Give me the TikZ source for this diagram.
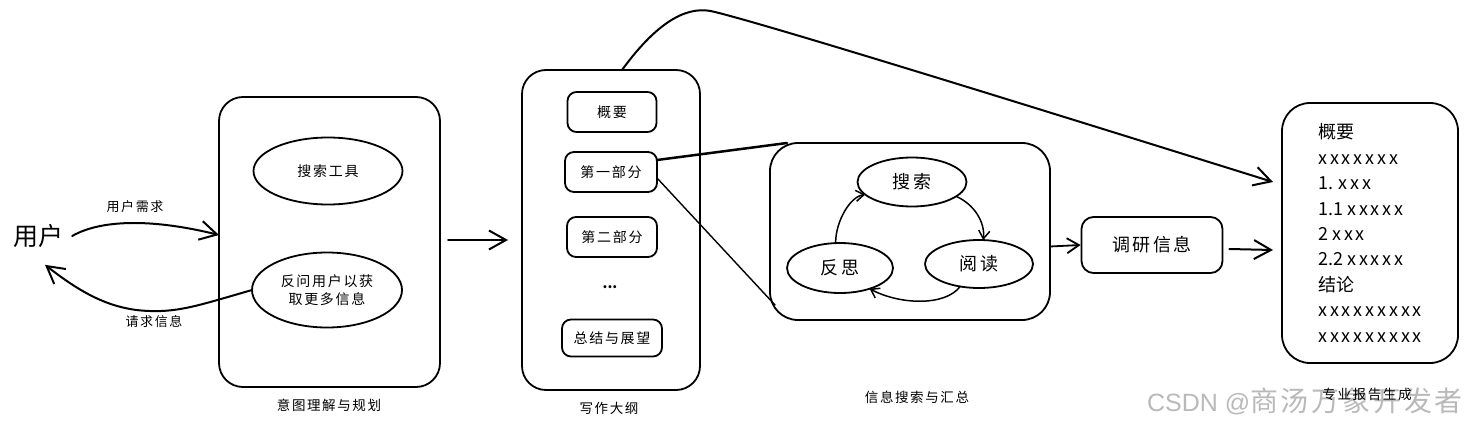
\documentclass[tikz,border=0pt]{standalone}
\usepackage{fontspec}
\setmainfont{Noto Sans CJK SC}
\newfontfamily\cjktrack[LetterSpace=12]{Noto Sans CJK SC}
\newfontfamily\xtrack[LetterSpace=16]{Noto Sans CJK SC}
\newfontfamily\wmcjk[LetterSpace=10]{Noto Sans CJK SC}
\newfontfamily\wmlatin{Liberation Sans}
\usetikzlibrary{arrows.meta,shapes.geometric,calc}

\begin{document}
\begin{tikzpicture}[x=1pt,y=-1pt,
  ink/.style={draw=black, line width=1.8pt, line cap=round, line join=round},
  panel/.style={ink, rounded corners=24pt, inner sep=0pt, outer sep=0pt},
  card/.style={ink, rounded corners=9pt, inner sep=0pt, outer sep=0pt,
    font=\cjktrack\fontsize{14}{16}\selectfont},
  bubble/.style={ink, ellipse, inner sep=0pt, outer sep=0pt},
  caption/.style={inner sep=0pt, font=\cjktrack\fontsize{13.5}{16}\selectfont},
  flow/.style={ink, line width=2pt, -{Straight Barb[length=17pt,width=19pt]}},
  short/.style={ink, -{Straight Barb[length=12pt,width=15pt]}},
  cycle/.style={ink, line width=1.5pt, -{Straight Barb[length=8pt,width=11pt]}}
]
\useasboundingbox (0,0) rectangle (1466,428);

% user and the exchange with the planner
\node[inner sep=0pt, font=\fontsize{25}{28}\selectfont] (user) at (38,236) {用户};

\node[panel, minimum width=221pt, minimum height=290pt] (intent) at (329.5,242) {};
\node[bubble, minimum width=149pt, minimum height=67pt,
  font=\cjktrack\fontsize{14}{16}\selectfont] (tool) at (328,171) {搜索工具};
\node[bubble, minimum width=150pt, minimum height=75pt, align=center,
  font=\cjktrack\fontsize{14}{18.5}\selectfont] (ask) at (327,290) {反问用户以获\\取更多信息};
\node[caption] (intentcap) at (329,405) {意图理解与规划};

\draw[flow] ([xshift=9pt]user.east) .. controls (100,220) and (150,218) .. ([yshift=7pt]intent.west);
\node[inner sep=0pt, font=\cjktrack\fontsize{13}{15}\selectfont] (needlbl) at (135,207) {用户需求};
\draw[flow] (ask.west) .. controls (200,305) and (180,312) .. (150,311)
  .. controls (110,310) and (80,292) .. ([shift={(7pt,-17pt)}]user.south);
\node[inner sep=0pt, font=\cjktrack\fontsize{13}{15}\selectfont] (asklbl) at (154,322) {请求信息};

% outline column
\node[panel, minimum width=178pt, minimum height=320pt] (outline) at (611,230) {};
\node[card, minimum width=89pt, minimum height=40pt] (ov) at (612,112) {概要};
\node[card, minimum width=92pt, minimum height=40pt] (p1) at (611,172) {第一部分};
\node[card, minimum width=90pt, minimum height=40pt] (p2) at (612,237) {第二部分};
\node[inner sep=0pt, font=\bfseries\fontsize{14}{16}\selectfont] (dots) at (610,287) {...};
\node[card, minimum width=100pt, minimum height=37pt] (sum) at (612,338) {总结与展望};
\node[caption] (outlinecap) at (609,408) {写作大纲};

\draw[flow] ([xshift=8pt,yshift=2pt]intent.east) -- ([shift={(-14pt,-10pt)}]outline.west);

% search / read / reflect loop
\node[panel, rounded corners=28pt, minimum width=280pt, minimum height=177pt] (info) at (910,231.5) {};
\node[bubble, minimum width=109pt, minimum height=49pt,
  font=\cjktrack\fontsize{18}{20}\selectfont] (search) at (912,182) {搜索};
\node[bubble, minimum width=106pt, minimum height=50pt,
  font=\cjktrack\fontsize{18}{20}\selectfont] (reflect) at (840,268) {反思};
\node[bubble, minimum width=108pt, minimum height=48pt,
  font=\cjktrack\fontsize{18}{20}\selectfont] (read) at (979,264) {阅读};
\node[caption] (infocap) at (917,397) {信息搜索与汇总};

\draw[cycle] (search.-18) .. controls +(18,8) and +(2,-18) .. (read.80);
\draw[cycle] (read.-130) .. controls +(-15,20) and +(30,16) .. (reflect.-35);
\draw[cycle] (reflect.100) .. controls +(0,-22) and +(-15,2) .. (search.195);

\draw[ink, line width=2.5pt] ([yshift=12pt]p1.east) -- ([xshift=17pt]info.north west);
\draw[ink, line width=1.4pt] ([yshift=-6pt]p1.east) -- ([shift={(5pt,15pt)}]info.south west);

% gathered material and the final report
\node[ink, rounded corners=12pt, minimum width=141pt, minimum height=56pt, inner sep=0pt,
  font=\cjktrack\fontsize{18}{20}\selectfont] (research) at (1152,245) {调研信息};
\node[panel, rounded corners=28pt, minimum width=176pt, minimum height=260pt] (report) at (1370,233) {};
\node[anchor=west, align=left, inner sep=0pt, font=\fontsize{18}{25.4}\selectfont] (body) at (1318,233)
  {概要\\{\xtrack xxxxxxx}\\1. {\xtrack xxx}\\1.1 {\xtrack xxxxx}\\2 {\xtrack xxx}\\2.2 {\xtrack xxxxx}\\结论\\{\xtrack xxxxxxxxx}\\{\xtrack xxxxxxxxx}};

\draw[short] ([yshift=-15pt]info.east) -- (research.west);
\draw[flow] ([shift={(6pt,-4pt)}]research.east) -- ([shift={(-9pt,-17pt)}]report.west);
\draw[flow] ([xshift=11pt]outline.north) .. controls (660,18) and (690,5) .. (715,12)
  .. controls (780,28) and (1100,128) .. ([shift={(-9pt,51pt)}]report.west);

\node[inner sep=0pt, text={rgb,255:red,185;green,185;blue,185}] (wm) at (1305,401)
  {\wmlatin\fontsize{25}{28}\selectfont CSDN @\wmcjk\fontsize{28}{30}\selectfont 商汤万象开发者};
\node[caption] (reportcap) at (1367,394) {专业报告生成};
\end{tikzpicture}
\end{document}
